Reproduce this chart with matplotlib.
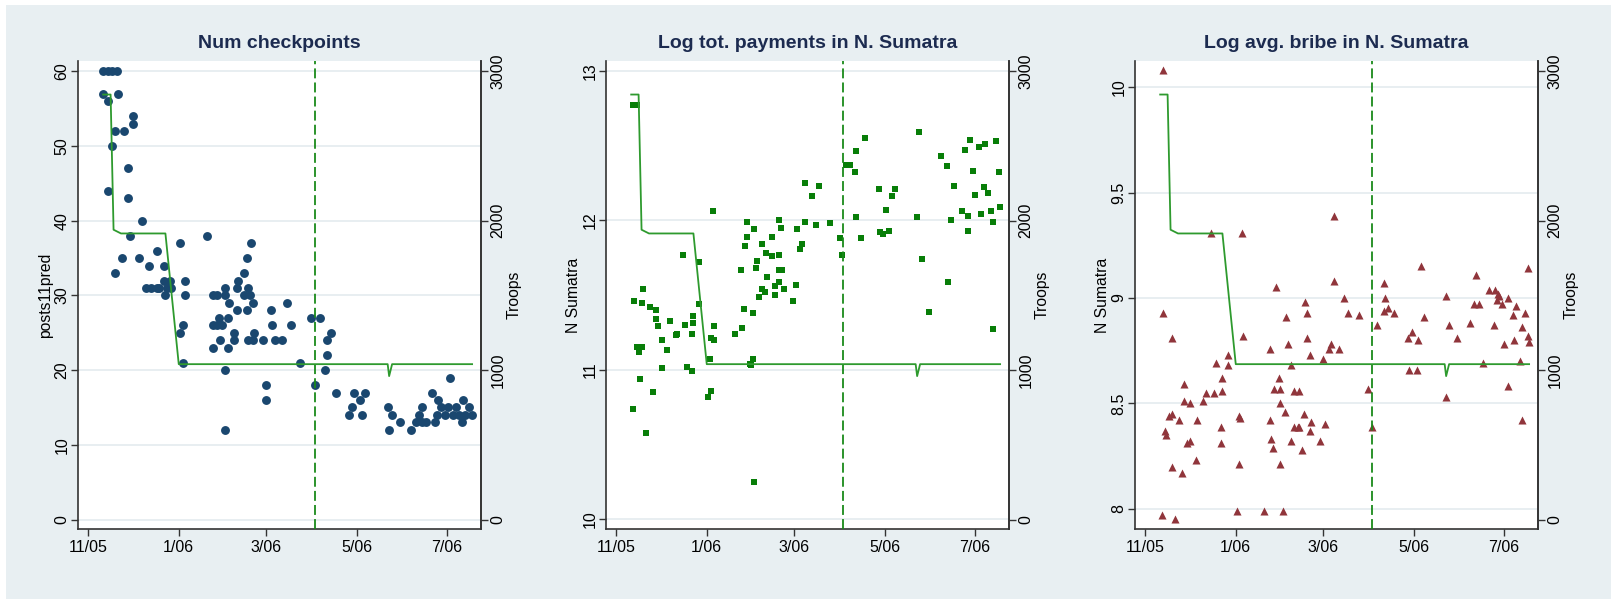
import numpy as np
import pandas as pd
import matplotlib
matplotlib.use('Agg')
import matplotlib.pyplot as plt
import matplotlib.dates as mdates
from matplotlib.patches import Rectangle

plt.rcParams['font.family'] = ['Liberation Sans', 'DejaVu Sans']

BASE = pd.Timestamp('2005-11-01')

# 部隊数 (右軸)  日数は 2005-11-01 からの経過日
troops_day = [10, 15, 17, 22, 52, 61, 202, 203, 205, 259]
troops_val = [2845, 2845, 1940, 1915, 1915, 1040, 1040, 960, 1040, 1040]

# 検問所数
posts_day = [10, 13, 16, 19, 10, 13, 20, 13, 18, 16, 24, 30, 30, 27, 27, 36, 28, 23, 18, 34,
             46, 41, 51, 39, 42, 46, 48, 51, 55, 53, 56, 52, 62, 65, 65, 64, 62, 64, 80, 84,
             87, 92, 92, 84, 87, 90, 88, 84, 89, 95, 100, 94, 98, 98, 94, 92, 92, 101, 100, 105,
             107, 110, 108, 105, 109, 111, 107, 112, 108, 111, 118, 123, 124, 126, 131, 134, 137, 120, 120, 143,
             150, 156, 153, 161, 164, 161, 160, 167, 179, 187, 183, 178, 176, 185, 202, 205, 203, 210, 218, 221,
             225, 228, 223, 225, 232, 236, 235, 234, 238, 244, 243, 248, 241, 246, 250, 253, 257, 254, 259, 252]
posts_val = [60, 60, 60, 60, 57, 56, 57, 44, 52, 50, 52, 54, 53, 47, 43, 40, 38, 35, 33, 35,
             36, 34, 34, 31, 31, 31, 31, 32, 32, 31, 31, 30, 37, 32, 30, 26, 25, 21, 38, 30,
             30, 30, 31, 26, 26, 26, 27, 23, 24, 29, 28, 27, 25, 24, 23, 20, 12, 32, 31, 33,
             35, 37, 31, 30, 30, 29, 28, 25, 24, 24, 24, 28, 26, 24, 24, 29, 26, 18, 16, 21,
             27, 27, 18, 24, 25, 22, 20, 17, 17, 17, 16, 15, 14, 14, 15, 14, 12, 13, 12, 13,
             13, 13, 14, 15, 17, 16, 14, 13, 15, 19, 15, 15, 14, 14, 14, 16, 15, 14, 14, 13]

# 支払総額 (log)
pay_day = [11, 14, 12, 18, 17, 14, 15, 17, 16, 11, 20, 23, 27, 27, 28, 31, 34, 31, 25, 36,
           40, 41, 46, 45, 48, 51, 52, 52, 51, 56, 56, 65, 66, 66, 64, 63, 64, 62, 80, 85,
           84, 86, 92, 87, 88, 88, 93, 90, 92, 91, 93, 95, 94, 96, 98, 98, 100, 101, 102, 105,
           105, 107, 107, 110, 111, 110, 110, 112, 110, 113, 119, 121, 122, 124, 125, 127, 127, 132, 137, 135,
           144, 151, 152, 155, 158, 161, 162, 162, 165, 168, 177, 178, 180, 182, 184, 186, 188, 204, 203, 206,
           211, 219, 223, 224, 226, 228, 233, 237, 237, 235, 239, 241, 242, 245, 246, 248, 251, 249, 253, 254,
           256, 258, 259, 254]
pay_val = [12.77, 12.77, 11.46, 11.54, 11.45, 11.15, 11.12, 11.15, 10.94, 10.74, 10.58, 11.42, 11.40, 11.34, 11.29, 11.20, 11.13, 11.01, 10.85, 11.33,
           11.23, 11.24, 11.30, 11.77, 11.02, 10.99, 11.36, 11.31, 11.24, 11.72, 11.44, 12.06, 11.29, 11.20, 11.21, 11.07, 10.86, 10.82, 11.24, 11.28,
           11.67, 11.41, 11.38, 11.83, 11.99, 11.89, 11.94, 11.04, 11.07, 11.03, 10.25, 11.73, 11.68, 11.49, 11.84, 11.54, 11.52, 11.78, 11.62, 11.89,
           11.76, 11.56, 11.50, 12.00, 11.95, 11.77, 11.67, 11.67, 11.59, 11.54, 11.46, 11.57, 11.94, 11.81, 11.84, 11.99, 12.25, 12.16, 12.23, 11.97,
           11.98, 11.88, 11.77, 12.37, 12.37, 12.32, 12.46, 12.02, 11.88, 12.55, 12.21, 11.92, 11.91, 12.07, 11.93, 12.16, 12.21, 12.59, 12.02, 11.74,
           11.39, 12.43, 12.36, 11.59, 12.00, 12.23, 12.06, 12.03, 11.93, 12.47, 12.54, 12.33, 12.17, 12.49, 12.04, 12.22, 12.18, 12.51, 12.06, 11.99,
           12.53, 12.32, 12.09, 11.27]

# 平均賄賂額 (log)
bribe_day = [12, 12, 18, 11, 20, 13, 14, 16, 18, 18, 23, 25, 26, 26, 30, 28, 30, 34, 35, 39,
             41, 46, 44, 48, 52, 52, 51, 51, 56, 56, 62, 63, 63, 64, 65, 66, 80, 84, 84, 85,
             86, 88, 90, 87, 91, 91, 91, 93, 94, 95, 96, 98, 98, 100, 104, 100, 103, 104, 107, 106,
             108, 109, 109, 111, 111, 112, 120, 121, 118, 124, 125, 127, 127, 131, 134, 137, 144, 150, 153, 156,
             161, 162, 161, 164, 168, 177, 180, 178, 183, 184, 186, 188, 203, 205, 203, 210, 219, 223, 222, 225,
             228, 232, 235, 236, 238, 237, 239, 241, 242, 245, 245, 248, 249, 250, 254, 253, 254, 256, 258, 258,
             259]
bribe_val = [10.08, 8.93, 8.81, 7.97, 7.95, 8.37, 8.35, 8.44, 8.45, 8.20, 8.42, 8.17, 8.59, 8.51, 8.50, 8.31, 8.32, 8.23, 8.42, 8.51,
             8.55, 8.55, 9.31, 8.69, 8.62, 8.56, 8.39, 8.31, 8.73, 8.68, 7.99, 8.21, 8.44, 8.43, 9.31, 8.82, 7.99, 8.76, 8.42, 8.33,
             8.29, 9.05, 8.62, 8.57, 8.57, 8.50, 8.21, 7.99, 8.46, 8.91, 8.78, 8.68, 8.32, 8.56, 8.56, 8.39, 8.39, 8.39, 8.45, 8.28,
             8.98, 8.93, 8.81, 8.73, 8.37, 8.41, 8.71, 8.40, 8.32, 8.76, 8.78, 9.39, 9.08, 8.76, 9.00, 8.93, 8.92, 8.57, 8.39, 8.87,
             9.07, 9.00, 8.94, 8.95, 8.93, 8.81, 8.84, 8.66, 8.66, 8.80, 9.15, 8.91, 9.01, 8.87, 8.53, 8.81, 8.88, 9.11, 8.97, 8.97,
             8.69, 9.04, 8.87, 9.04, 9.02, 8.99, 9.01, 8.97, 8.78, 9.00, 8.58, 8.92, 8.80, 8.96, 8.86, 8.70, 8.42, 8.93, 9.14, 8.82,
             8.79]

TICK_DATES = ['2005-11-01', '2006-01-01', '2006-03-01', '2006-05-01', '2006-07-01']
TICK_LABELS = ['11/05', '1/06', '3/06', '5/06', '7/06']
EVENT_DATE = '2006-04-03'
X_START, X_END = '2005-10-25', '2006-07-24'

TITLE_C = '#1c2b50'
LINE_C = '#2e9a2e'
EVENT_C = '#1a8a1a'
GRID_C = '#e6edf0'
SPINE_C = '#333333'
BG_C = '#e8eff2'


def to_dates(days):
    return BASE + pd.to_timedelta(np.asarray(days, dtype=float), unit='D')


W, H = 1611, 599
fig = plt.figure(figsize=(W / 100, H / 100), dpi=100, facecolor='white')
fig.patches.append(Rectangle((6 / W, 0), 1, (H - 4.7) / H, transform=fig.transFigure,
                             facecolor=BG_C, edgecolor='none', zorder=-10))

panels = [
    dict(left=78, title='Num checkpoints', ylabel='posts11pred',
         x=posts_day, y=posts_val, marker='o', color='#1a476f', ms=6.4,
         ylim=(-1.27, 61.39), yticks=[0, 10, 20, 30, 40, 50, 60], ylabels=None),
    dict(left=606, title='Log tot. payments in N. Sumatra', ylabel='N Sumatra',
         x=pay_day, y=pay_val, marker='s', color='#087e08', ms=4.2,
         ylim=(9.936, 13.065), yticks=[10, 11, 12, 13], ylabels=None),
    dict(left=1135, title='Log avg. bribe in N. Sumatra', ylabel='N Sumatra',
         x=bribe_day, y=bribe_val, marker='^', color='#90353b', ms=5.8,
         ylim=(7.904, 10.124), yticks=[8, 8.5, 9, 9.5, 10],
         ylabels=['8', '8.5', '9', '9.5', '10']),
]

PW, TOP, BOT = 403, 61, 529

for p in panels:
    ax = fig.add_axes([p['left'] / W, (H - BOT) / H, PW / W, (BOT - TOP) / H])
    ax.set_facecolor('white')
    ax.scatter(to_dates(p['x']), p['y'], marker=p['marker'], s=p['ms'] ** 2,
               color=p['color'], linewidths=0, zorder=3)
    ax.axvline(pd.Timestamp(EVENT_DATE), color=EVENT_C, lw=1.3,
               ls=(0, (5.5, 2.3)), zorder=4)

    ax.set_xlim(pd.Timestamp(X_START), pd.Timestamp(X_END))
    ax.set_xticks([pd.Timestamp(d) for d in TICK_DATES])
    ax.set_xticklabels(TICK_LABELS)
    ax.set_ylim(*p['ylim'])
    ax.set_yticks(p['yticks'])
    if p['ylabels']:
        ax.set_yticklabels(p['ylabels'])
    ax.yaxis.grid(True, color=GRID_C, lw=1.3)
    ax.set_axisbelow(True)
    ax.tick_params(axis='y', labelrotation=90, length=5, width=1, pad=1,
                   labelsize=11.5, color=SPINE_C)
    ax.tick_params(axis='x', length=5, width=1, pad=3, labelsize=11.5, color=SPINE_C)
    for lab in ax.get_yticklabels():
        lab.set_va('center')
    ax.set_ylabel(p['ylabel'], fontsize=11.3, labelpad=1)
    ax.set_title(p['title'], fontsize=14, color=TITLE_C, pad=9, fontweight='bold')
    for side in ['left', 'bottom', 'right']:
        ax.spines[side].set_color(SPINE_C)
        ax.spines[side].set_linewidth(1.2)
    ax.spines['top'].set_visible(False)

    # 右軸: 部隊数
    ax2 = ax.twinx()
    ax2.plot(to_dates(troops_day), troops_val, color=LINE_C, lw=1.3, zorder=5)
    ax2.set_ylim(-63.5, 3069.5)
    ax2.set_yticks([0, 1000, 2000, 3000])
    ax2.tick_params(axis='y', labelrotation=90, length=5, width=1, pad=2,
                    labelsize=11.5, color=SPINE_C)
    for lab in ax2.get_yticklabels():
        lab.set_va('center')
    ax2.set_ylabel('Troops', fontsize=11.3, labelpad=1)
    ax2.spines['top'].set_visible(False)
    ax2.spines['right'].set_color(SPINE_C)
    ax2.spines['right'].set_linewidth(1.2)
    ax2.spines['left'].set_visible(False)
    ax2.spines['bottom'].set_visible(False)

fig.savefig('out.png', dpi=100, facecolor=fig.get_facecolor())
